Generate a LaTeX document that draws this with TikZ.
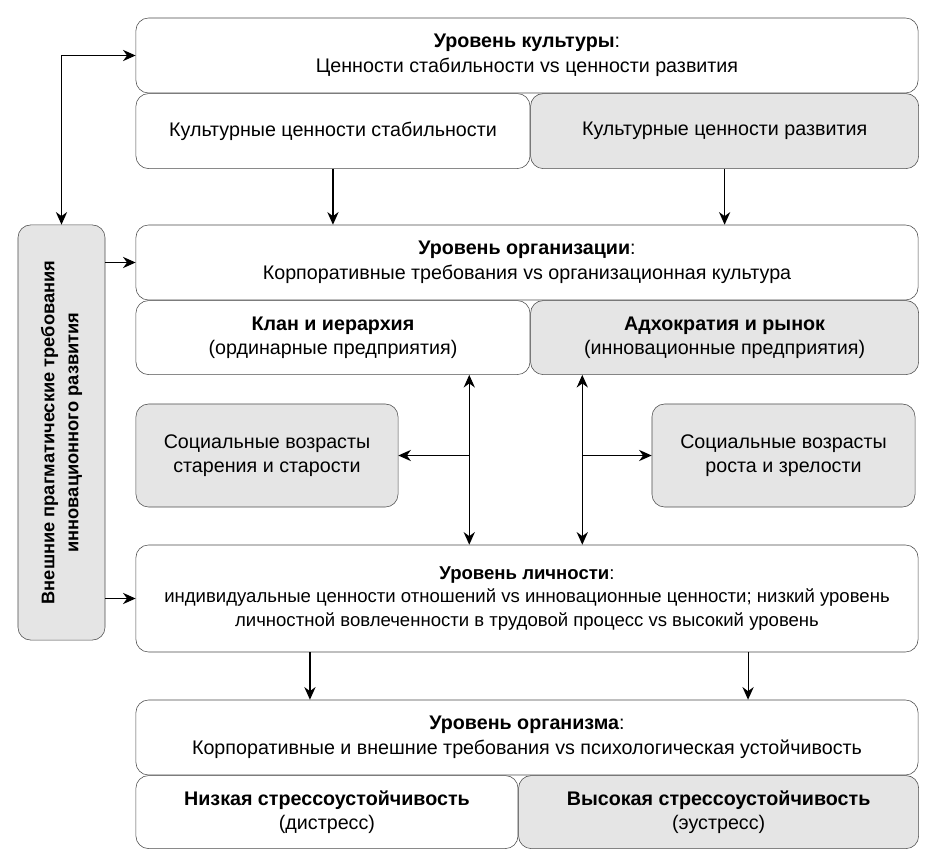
\documentclass[tikz,border=0pt]{standalone}
\usepackage{fontspec}
\setmainfont{Liberation Sans}
\usetikzlibrary{positioning, arrows.meta}

\begin{document}
\begin{tikzpicture}[x=0.025cm, y=-0.025cm,
  level/.style={draw=black!70, rounded corners=9pt, minimum width=19.55cm, minimum height=1.875cm, align=center, fill=white, font=\fontsize{14}{17.5}\selectfont},
  half/.style={draw=black!70, rounded corners=9pt, minimum height=1.875cm, align=center, fill=white, font=\fontsize{14}{17.5}\selectfont},
  shade/.style={fill=gray!20},
  arr/.style={-{Stealth[length=9pt, width=8pt]}, line width=0.8pt},
  dbl/.style={{Stealth[length=9pt, width=8pt]}-{Stealth[length=9pt, width=8pt]}, line width=0.8pt}
]
\useasboundingbox (0,0) rectangle (942,867);

% culture level
\node[level] (cult) at (527,55.5) {\textbf{Уровень культуры}:\\Ценности стабильности vs ценности развития};
\node[half, minimum width=9.85cm, below right=0pt of cult.south west] (cultL) {Культурные ценности стабильности};
\node[half, shade, minimum width=9.7cm, right=0pt of cultL] (cultR) {Культурные ценности развития};

% organisation level
\node[level] (org) at (527,262.5) {\textbf{Уровень организации}:\\Корпоративные требования vs организационная культура};
\node[half, minimum width=9.85cm, minimum height=1.85cm, below right=0pt of org.south west] (orgL) {\textbf{Клан и иерархия}\\(ординарные предприятия)};
\node[half, shade, minimum width=9.7cm, minimum height=1.85cm, right=0pt of orgL] (orgR) {\textbf{Адхократия и рынок}\\(инновационные предприятия)};

\node[half, shade, minimum width=6.55cm, minimum height=2.575cm] (ageL) at (267,455.5) {Социальные возрасты\\старения и старости};
\node[half, shade, minimum width=6.575cm, minimum height=2.575cm] (ageR) at (783.5,455.5) {Социальные возрасты\\роста и зрелости};

% person level
\node[level, minimum height=2.675cm, font=\fontsize{13.2}{16.5}\selectfont] (pers) at (527,598.5) {\textbf{Уровень личности}:\\индивидуальные ценности отношений vs инновационные ценности; низкий уровень\\личностной вовлеченности в трудовой процесс vs высокий уровень};

% organism level
\node[level] (body) at (527,737.5) {\textbf{Уровень организма}:\\Корпоративные и внешние требования vs психологическая устойчивость};
\node[half, minimum width=9.55cm, minimum height=1.825cm, below right=0pt of body.south west] (bodyL) {\textbf{Низкая стрессоустойчивость}\\(дистресс)};
\node[half, shade, minimum width=10cm, minimum height=1.825cm, right=0pt of bodyL] (bodyR) {\textbf{Высокая стрессоустойчивость}\\(эустресс)};

% external demands
\node[half, shade, rotate=90, minimum width=10.375cm, minimum height=2.175cm, font=\bfseries\fontsize{13}{17}\selectfont] (ext) at (61.5,432.5) {Внешние прагматические требования\\инновационного развития};

% connectors
\draw[arr] (cultL.south) -- (cultL.south |- org.north);
\draw[arr] (cultR.south) -- (cultR.south |- org.north);

\coordinate (vL) at ([xshift=-1.525cm]orgL.south east);
\coordinate (vR) at ([xshift=1.3cm]orgR.south west);
\draw[dbl] (vL) -- (vL |- pers.north);
\draw[dbl] (vR) -- (vR |- pers.north);
\draw[arr] (vL |- ageL.east) -- (ageL.east);
\draw[arr] (vR |- ageR.west) -- (ageR.west);

\draw[arr] ([xshift=-5.425cm]pers.south) -- ([xshift=-5.425cm]pers.south |- body.north);
\draw[arr] ([xshift=5.525cm]pers.south) -- ([xshift=5.525cm]pers.south |- body.north);

\draw[dbl] (ext.east) |- (cult.west);
\draw[arr] (ext.south |- org.west) -- (org.west);
\draw[arr] (ext.south |- pers.west) -- (pers.west);
\end{tikzpicture}
\end{document}
